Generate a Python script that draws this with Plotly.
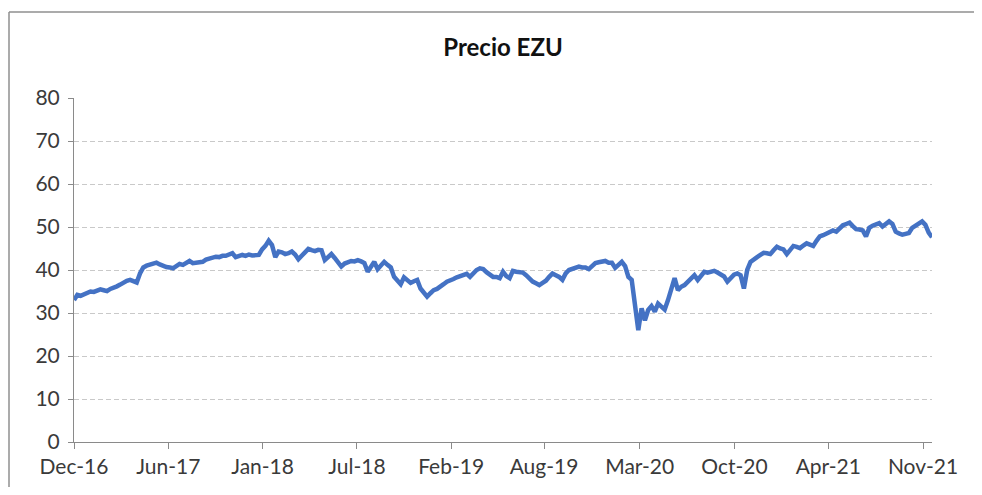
import pandas as pd
import plotly.graph_objects as go

# Weekly EZU closing prices
prices = [
    33.0, 34.2, 34.0, 34.3, 34.5, 35.0, 34.9, 35.2, 35.5, 35.3, 35.1, 35.6, 35.8, 36.2, 36.6, 37.2, 37.5, 37.7, 37.4, 37.1,
    39.2, 40.6, 41.0, 41.2, 41.5, 41.7, 41.3, 40.9, 40.7,
    40.6, 40.4, 40.9, 41.4, 41.2, 41.8, 42.1, 41.6, 41.7, 42.0,
    41.9, 42.4, 42.7, 42.9, 43.1, 43.0, 43.3, 43.3, 43.6, 43.9,
    43.0, 43.3, 43.5, 43.3, 43.6, 43.4, 43.5, 43.5, 44.8, 45.6,
    46.8, 45.8, 43.0, 44.3, 44.1, 43.7, 43.9, 44.3, 43.6, 42.5,
    43.3, 44.1, 44.9, 44.6, 44.4, 44.7, 44.6, 42.3, 43.0, 43.7,
    42.8, 41.9, 40.8, 41.5, 41.9, 42.1,
    42.0, 42.3, 42.0, 41.6, 39.6, 41.0, 41.9, 40.2, 41.0, 41.9,
    41.2, 40.6, 38.4, 37.6, 36.7, 38.3, 37.5, 37.0, 37.4, 37.7,
    35.7, 34.8, 33.8, 34.6, 35.3, 35.6, 36.3, 36.7, 37.3, 37.5,
    37.9, 38.3, 38.6, 38.9, 39.1, 38.4, 39.2, 40.0, 40.4, 40.2,
    39.5, 38.8, 38.4, 38.4, 38.1, 39.6, 38.6, 38.1, 39.8, 39.6,
    39.5, 39.4, 38.8, 38.0, 37.3, 36.9,
    36.5, 37.0, 37.5, 38.4, 39.2, 38.8, 38.4, 37.7, 39.2, 40.0,
    40.3, 40.6, 40.8, 40.6, 40.6, 40.2, 41.0, 41.6, 41.8, 41.9,
    42.1, 41.7, 41.7, 40.5, 41.3, 41.9, 40.9, 38.4, 37.7, 32.2,
    26.0, 31.1, 28.3, 30.7, 31.6, 30.3, 32.2, 31.5, 30.8, 33.0,
    35.5, 38.1, 35.3, 36.1, 36.5, 37.3, 38.0, 38.8, 37.7, 38.5,
    39.6, 39.4, 39.6, 39.8, 39.4, 38.9,
    38.5, 37.3, 38.2, 38.9, 39.2, 38.8, 35.7, 40.0, 41.9, 42.6,
    43.0, 43.5, 44.0, 43.9, 43.7, 44.6, 45.4, 45.0, 44.8, 43.7,
    44.8, 45.6, 45.4, 45.1, 45.7, 46.2, 45.9, 45.6, 46.8, 47.8,
    48.1, 48.4, 48.8, 49.2, 48.9, 49.8, 50.4, 50.7, 51.0, 50.2,
    49.5, 49.4, 49.2, 47.8, 49.8, 50.3, 50.6, 50.9, 50.1, 50.8,
    51.3, 50.7, 48.9, 48.5, 48.2, 48.4,
    48.6, 49.8, 50.4, 50.9, 51.3, 50.5, 48.7, 47.6,
]
start_date = "2016-12-07"
dates = pd.date_range(start_date, periods=len(prices), freq="7D")

tick_dates = ["2016-12-07", "2017-06-25", "2018-01-11", "2018-07-30", "2019-02-15",
              "2019-08-31", "2020-03-21", "2020-10-08", "2021-04-25", "2021-11-12"]
tick_labels = ["Dec-16", "Jun-17", "Jan-18", "Jul-18", "Feb-19",
               "Aug-19", "Mar-20", "Oct-20", "Apr-21", "Nov-21"]
y_ticks = [0, 10, 20, 30, 40, 50, 60, 70, 80]

FONT = "Lato"
TXT = "#3a3a3a"
AX = "#8a8a8a"

fig = go.Figure()
fig.add_trace(go.Scatter(
    x=dates, y=prices, mode="lines",
    line=dict(color="#4472C4", width=4.5),
    hoverinfo="x+y", showlegend=False,
))

# page body has an 8px margin: figure origin sits at (8, 8) in the window
OFF = 8
W, H = 982 - 2 * OFF, 495 - 2 * OFF
L, T = 74 - OFF, 98 - OFF
pw, ph = 858, 344
R = W - L - pw
B = H - T - ph

def px_x(v):
    return (v - L) / pw

def px_y(v):
    return (T + ph - v) / ph

border = dict(color="#8f8f8f", width=1.5)
fig.update_layout(
    width=W, height=H,
    margin=dict(l=L, r=R, t=T, b=B, pad=0, autoexpand=False),
    paper_bgcolor="white", plot_bgcolor="white",
    font=dict(family=FONT, size=21, color=TXT),
    title=dict(text="<b>Precio EZU</b>", x=0.5, xref="paper", xanchor="center",
               y=1 - (48 - OFF) / H, yref="container", yanchor="middle",
               font=dict(family=FONT, size=24, color="#111111")),
    xaxis=dict(
        type="date", range=[dates[0], dates[-1]],
        tickmode="array", tickvals=tick_dates, ticktext=tick_labels,
        ticks="outside", ticklen=6, tickcolor=AX, tickwidth=1,
        showline=True, linecolor=AX, linewidth=1,
        showgrid=False, zeroline=False, automargin=False,
        tickfont=dict(family=FONT, size=21, color=TXT),
        ticklabelstandoff=0,
    ),
    yaxis=dict(
        range=[0, 80], tickmode="array", tickvals=y_ticks,
        ticks="outside", ticklen=5, tickcolor=AX, tickwidth=1,
        showline=True, linecolor=AX, linewidth=1,
        showgrid=True, gridcolor="#c9c9c9", gridwidth=1, griddash="5px,3px",
        zeroline=False, automargin=False,
        tickfont=dict(family=FONT, size=21, color=TXT),
        ticklabelstandoff=4,
    ),
    shapes=[
        dict(type="line", xref="paper", yref="paper",
             x0=px_x(1), x1=px_x(1), y0=px_y(4), y1=px_y(H), line=border, layer="below"),
        dict(type="line", xref="paper", yref="paper",
             x0=px_x(1), x1=px_x(W), y0=px_y(4), y1=px_y(4), line=border, layer="below"),
    ],
)

fig.write_html("out.html")
